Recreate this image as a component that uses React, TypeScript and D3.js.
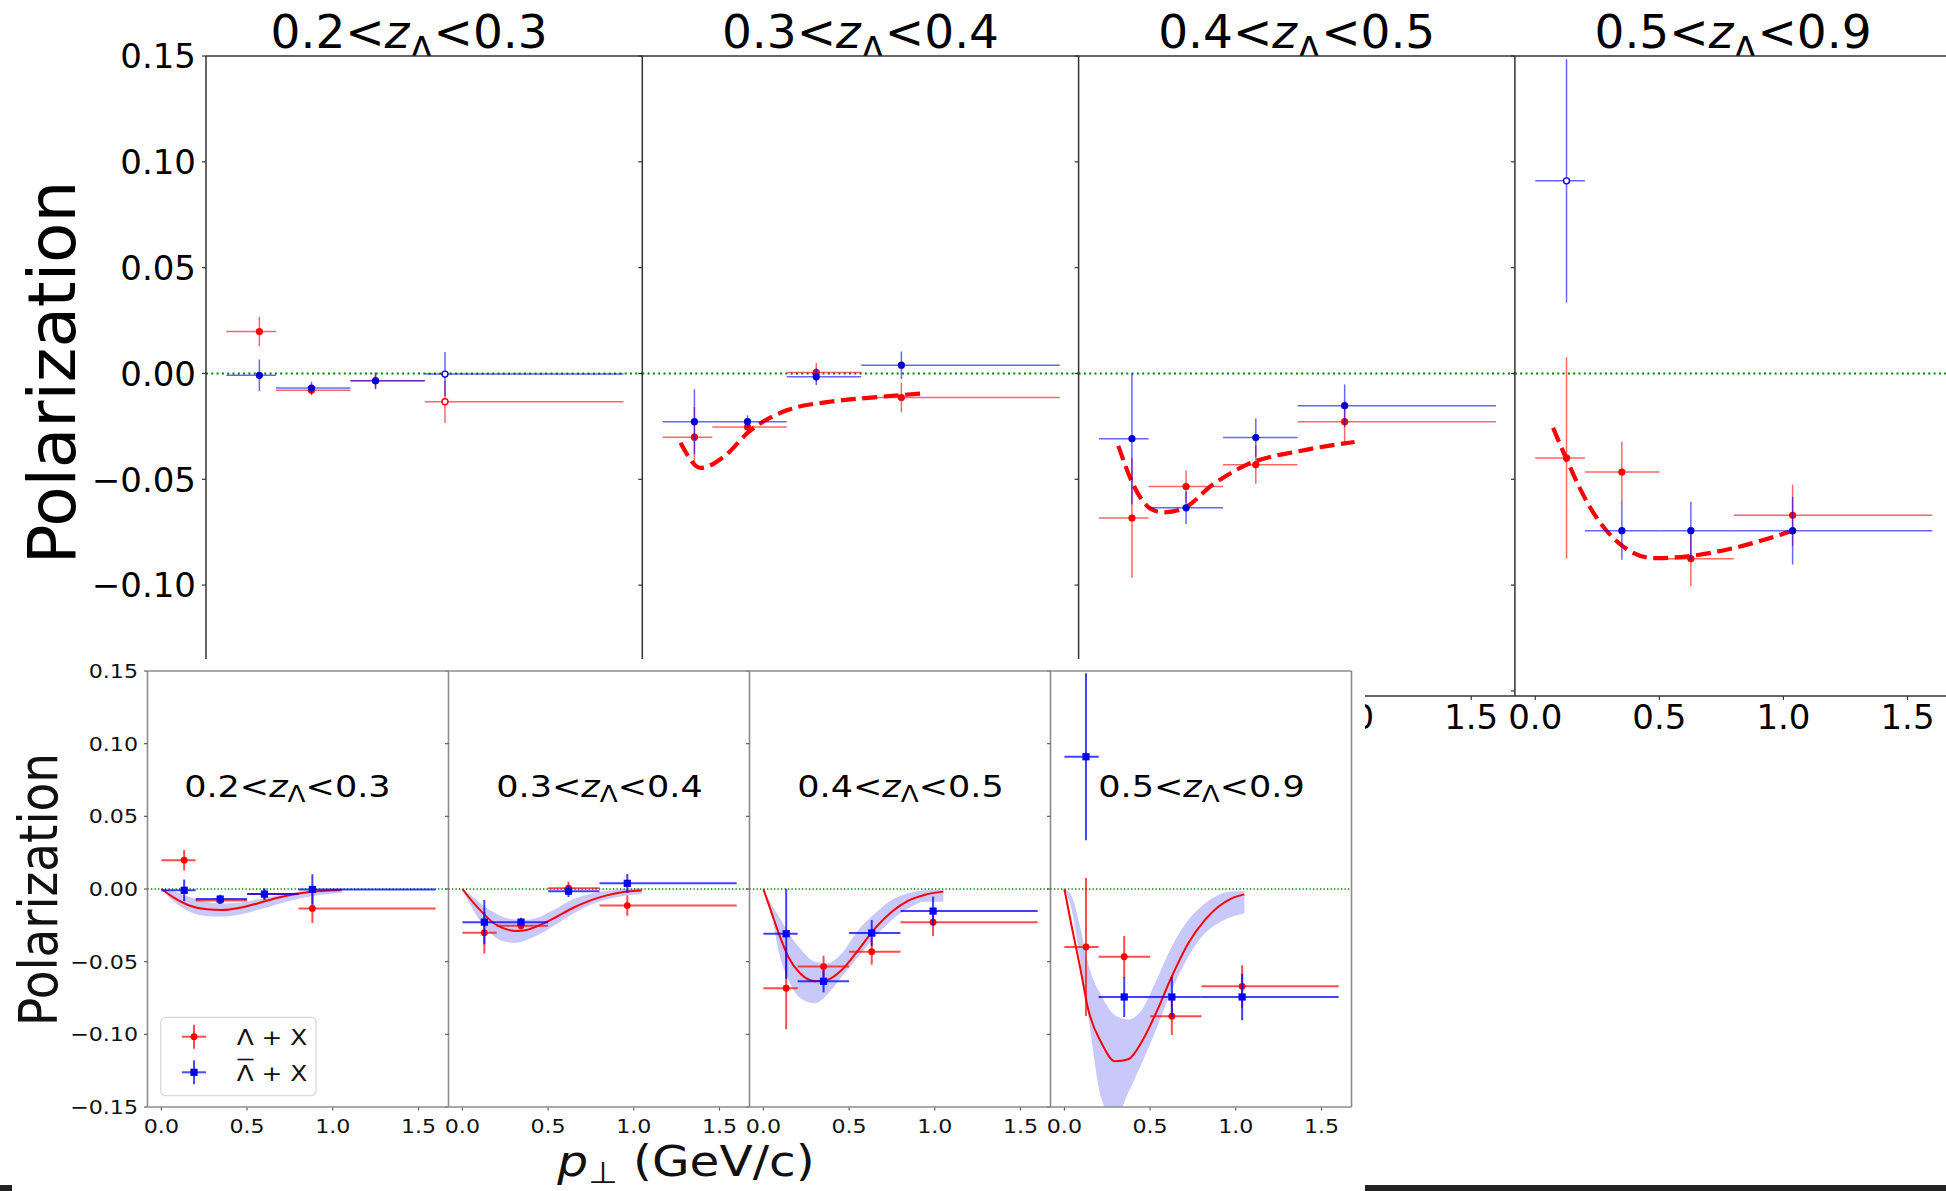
import React, { useEffect } from "react";
import * as d3 from "d3";

// ---------- data ----------
const zLow = ["0.2", "0.3", "0.4", "0.5"];
const zHigh = ["0.3", "0.4", "0.5", "0.9"];
const binEdges = [0, 0.2, 0.5, 0.8, 1.6];
const ptX = [
  [0.133, 0.343, 0.601, 0.881],
  [0.128, 0.342, 0.619, 0.962],
  [0.133, 0.351, 0.632, 0.99],
  [0.126, 0.349, 0.627, 1.037],
];
const lamY = [
  [0.0198, -0.0079, -0.0035, -0.0134],
  [-0.0301, -0.0253, 0.0005, -0.0114],
  [-0.0683, -0.0534, -0.0431, -0.0228],
  [-0.0399, -0.0466, -0.0875, -0.067],
];
const lamErr = [
  [0.007, 0.0024, 0.0035, 0.01],
  [0.0142, 0.0025, 0.0045, 0.007],
  [0.0282, 0.0075, 0.009, 0.0096],
  [0.0475, 0.0143, 0.013, 0.0145],
];
const lamOpen = [
  [false, false, false, true],
  [false, false, false, false],
  [false, false, false, false],
  [false, false, false, false],
];
const barY = [
  [-0.0009, -0.0069, -0.0035, -0.0003],
  [-0.0228, -0.0228, -0.0015, 0.0039],
  [-0.0308, -0.0635, -0.0303, -0.0152],
  [0.091, -0.0743, -0.0743, -0.0743],
];
const barErr = [
  [0.0075, 0.003, 0.004, 0.0104],
  [0.0153, 0.003, 0.004, 0.0065],
  [0.031, 0.0076, 0.009, 0.01],
  [0.0575, 0.0137, 0.0137, 0.016],
];
const barOpen = [
  [false, false, false, true],
  [false, false, false, false],
  [false, false, false, false],
  [true, false, false, false],
];

// top figure dashed model curves (panels 2-4)
const dashP = [
  [],
  [0.072, 0.154, 0.248, 0.35, 0.5, 0.67, 0.84, 1.05],
  [0.078, 0.138, 0.209, 0.258, 0.336, 0.459, 0.592, 0.815, 1.03],
  [0.072, 0.124, 0.213, 0.347, 0.48, 0.613, 0.792, 1.037],
];
const dashV = [
  [],
  [-0.0327, -0.0446, -0.0392, -0.0273, -0.0174, -0.0134, -0.0114, -0.0094],
  [-0.0342, -0.0525, -0.064, -0.0656, -0.064, -0.0525, -0.0433, -0.0365, -0.0324],
  [-0.0257, -0.04, -0.0617, -0.0811, -0.0873, -0.0864, -0.0827, -0.0743],
];

// bottom figure theory curves with bands
const thP = [
  [0, 0.07, 0.167, 0.264, 0.352, 0.459, 0.575, 0.692, 0.809, 0.925, 1.052],
  [0, 0.064, 0.122, 0.19, 0.259, 0.317, 0.375, 0.453, 0.55, 0.647, 0.745, 0.842, 0.939, 1.046],
  [0, 0.049, 0.097, 0.145, 0.214, 0.301, 0.37, 0.457, 0.554, 0.651, 0.749, 0.846, 0.943, 1.05],
  [0, 0.043, 0.091, 0.14, 0.218, 0.295, 0.373, 0.451, 0.529, 0.626, 0.723, 0.82, 0.898, 0.976, 1.05],
];
const thC = [
  [0, -0.0057, -0.0115, -0.014, -0.0145, -0.0129, -0.0094, -0.0057, -0.003, -0.0014, -0.0007],
  [0, -0.0094, -0.0168, -0.0241, -0.0278, -0.0289, -0.0282, -0.0248, -0.0191, -0.0129, -0.008, -0.0044, -0.0021, -0.0011],
  [0, -0.0168, -0.0328, -0.0466, -0.058, -0.0634, -0.0627, -0.0558, -0.042, -0.0271, -0.0156, -0.008, -0.0039, -0.0018],
  [0, -0.026, -0.0535, -0.0833, -0.1063, -0.1185, -0.1171, -0.1052, -0.0868, -0.0604, -0.0374, -0.0213, -0.0122, -0.0064, -0.0037],
];
const thLo = [
  [0, -0.0085, -0.0156, -0.0186, -0.019, -0.0175, -0.014, -0.0099, -0.0064, -0.0041, -0.0025],
  [0, -0.0145, -0.025, -0.033, -0.0365, -0.037, -0.0351, -0.031, -0.0241, -0.0168, -0.011, -0.0071, -0.0048, -0.0034],
  [0, -0.019, -0.0466, -0.062, -0.075, -0.0787, -0.073, -0.0604, -0.0466, -0.0328, -0.0213, -0.0133, -0.0087, -0.0087],
  [0, -0.0142, -0.0489, -0.088, -0.145, -0.158, -0.14, -0.12, -0.0985, -0.0696, -0.0466, -0.0305, -0.0236, -0.0191, -0.0168],
];
const thHi = [
  [0, -0.0016, -0.0057, -0.0087, -0.0099, -0.0094, -0.0069, -0.0041, -0.0018, -0.0007, 0],
  [0, -0.0057, -0.0115, -0.0165, -0.02, -0.021, -0.0211, -0.0191, -0.0133, -0.0071, -0.0034, -0.0014, 0, 0.0007],
  [0, -0.011, -0.0202, -0.03, -0.041, -0.05, -0.051, -0.0443, -0.0282, -0.0168, -0.0076, -0.003, -0.0009, -0.0005],
  [0, -0.005, -0.0257, -0.052, -0.074, -0.0868, -0.0898, -0.0833, -0.0649, -0.0397, -0.0213, -0.0099, -0.0041, -0.0018, -0.0014],
];

const yTicks = [0.15, 0.1, 0.05, 0, -0.05, -0.1, -0.15];
const xTicks = [0, 0.5, 1, 1.5];
const legendLabels = ["Λ + X", "Λ + X"];

// ---------- layout ----------
const W = 1946;
const H = 1191;
const FONT = "DejaVu Sans, Verdana, sans-serif";
const TOP = { left: 206, pw: 436.3, top: 56, bottom: 696 };
const BOT = { left: 147.5, pw: 301, top: 671, bottom: 1107 };
const INSET_TOP = 659;
const INSET_RIGHT = 1365;
const xDomTop: [number, number] = [-0.082, 1.676];
const xDomBot: [number, number] = [-0.081, 1.675];
const yDomTop: [number, number] = [-0.1524, 0.15];
const yDomBot: [number, number] = [-0.15, 0.15];
const SX = 1.13; // horizontal stretch of the inset image
const fmtY = d3.format(".2f");
const fmtX = d3.format(".1f");

const yTop = d3.scaleLinear().domain(yDomTop).range([TOP.bottom, TOP.top]);
const yBot = d3.scaleLinear().domain(yDomBot).range([BOT.bottom, BOT.top]);
const xTopScale = (i: number) =>
  d3.scaleLinear().domain(xDomTop).range([TOP.left + i * TOP.pw, TOP.left + (i + 1) * TOP.pw]);
const xBotScale = (i: number) =>
  d3.scaleLinear().domain(xDomBot).range([BOT.left + i * BOT.pw, BOT.left + (i + 1) * BOT.pw]);

function Title({ i, x, y, size, shift, sub, sx = 1 }: any) {
  return (
    <g transform={`translate(${x},${y}) scale(${sx},1)`}>
      <text fontFamily={FONT} fontSize={size} textAnchor="middle" fill="#000">
        <tspan>{zLow[i]}&lt;</tspan>
        <tspan fontStyle="italic">z</tspan>
        <tspan fontSize={size * sub} dy={shift}>Λ</tspan>
        <tspan dy={-shift}>&lt;{zHigh[i]}</tspan>
      </text>
    </g>
  );
}

function ErrPoints({ xs, ys, errs, opens, x, y, color, mcolor, lw, op, shape, r }: any) {
  return (
    <g>
      {xs.map((p: number, k: number) => (
        <g key={k}>
          <line x1={x(binEdges[k])} x2={x(binEdges[k + 1])} y1={y(ys[k])} y2={y(ys[k])} stroke={color} strokeWidth={lw} strokeOpacity={op} />
          <line x1={x(p)} x2={x(p)} y1={y(ys[k] - errs[k])} y2={y(ys[k] + errs[k])} stroke={color} strokeWidth={lw} strokeOpacity={op} />
        </g>
      ))}
      {xs.map((p: number, k: number) => {
        const open = opens && opens[k];
        if (shape === "square")
          return <rect key={"m" + k} x={x(p) - r} y={y(ys[k]) - r} width={2 * r} height={2 * r} fill={mcolor} />;
        return (
          <circle key={"m" + k} cx={x(p)} cy={y(ys[k])} r={open ? r - 0.6 : r} fill={open ? "#fff" : mcolor} stroke={open ? mcolor : "none"} strokeWidth={open ? 1.4 : 0} />
        );
      })}
    </g>
  );
}

function TopPanel({ i }: { i: number }) {
  const x = xTopScale(i);
  const x0 = TOP.left + i * TOP.pw;
  const dash = d3
    .line<number>()
    .x((_, k) => x(dashP[i][k]))
    .y((v) => yTop(v))
    .curve(d3.curveMonotoneX);
  return (
    <g>
      <line x1={x0} x2={x0 + TOP.pw} y1={yTop(0)} y2={yTop(0)} stroke="#008000" strokeWidth={2} strokeDasharray="2,3.3" />
      {dashP[i].length > 0 && (
        <path d={dash(dashV[i]) || ""} fill="none" stroke="#ff0000" strokeWidth={4.2} strokeDasharray="15,6.5" />
      )}
      <ErrPoints xs={ptX[i]} ys={lamY[i]} errs={lamErr[i]} opens={lamOpen[i]} x={x} y={yTop} color="#ff0000" mcolor="#ff0000" lw={1.5} op={0.6} shape="circle" r={3.6} />
      <ErrPoints xs={ptX[i]} ys={barY[i]} errs={barErr[i]} opens={barOpen[i]} x={x} y={yTop} color="#0000ff" mcolor="#0000d0" lw={1.5} op={0.6} shape="circle" r={3.6} />
      <line x1={x0} x2={x0} y1={TOP.top} y2={TOP.bottom} stroke="#333" strokeWidth={1.5} />
      {yTicks.map((t) => (
        <line key={t} x1={x0 - 4} x2={x0} y1={yTop(t)} y2={yTop(t)} stroke="#333" strokeWidth={1.2} />
      ))}
      {xTicks.map((t) => (
        <g key={t}>
          <line x1={x(t)} x2={x(t)} y1={TOP.bottom} y2={TOP.bottom + 4} stroke="#333" strokeWidth={1.2} />
          {x(t) + 30 > INSET_RIGHT && (
            <text x={x(t)} y={729} fontFamily={FONT} fontSize={34} textAnchor="middle" fill="#000">
              {fmtX(t)}
            </text>
          )}
        </g>
      ))}
    </g>
  );
}

function BotPanel({ i }: { i: number }) {
  const x = xBotScale(i);
  const x0 = BOT.left + i * BOT.pw;
  const line = d3
    .line<number>()
    .x((_, k) => x(thP[i][k]))
    .y((v) => yBot(v))
    .curve(d3.curveMonotoneX);
  const area = d3
    .area<number>()
    .x((_, k) => x(thP[i][k]))
    .y0((_, k) => yBot(thLo[i][k]))
    .y1((_, k) => yBot(thHi[i][k]))
    .curve(d3.curveMonotoneX);
  const idx = thP[i].map((_, k) => k);
  return (
    <g>
      <clipPath id={"bclip" + i}>
        <rect x={x0} y={BOT.top} width={BOT.pw} height={BOT.bottom - BOT.top} />
      </clipPath>
      <g clipPath={`url(#bclip${i})`}>
        <path d={area(idx as any) || ""} fill="rgb(200,200,250)" stroke="none" />
        <line x1={x0} x2={x0 + BOT.pw} y1={yBot(0)} y2={yBot(0)} stroke="#008000" strokeWidth={1.3} strokeDasharray="1.3,2.2" />
        <path d={line(thC[i]) || ""} fill="none" stroke="#ff0000" strokeWidth={2} />
        <ErrPoints xs={ptX[i]} ys={lamY[i]} errs={lamErr[i]} x={x} y={yBot} color="#ff0000" mcolor="#ff0000" lw={2} op={0.7} shape="circle" r={3.4} />
        <ErrPoints xs={ptX[i]} ys={barY[i]} errs={barErr[i]} x={x} y={yBot} color="#0000ff" mcolor="#0000ff" lw={2} op={0.75} shape="square" r={3.6} />
      </g>
      <line x1={x0} x2={x0} y1={BOT.top} y2={BOT.bottom} stroke="#8c8c8c" strokeWidth={1.6} />
      {yTicks.map((t) => (
        <line key={t} x1={x0 - 3.5} x2={x0} y1={yBot(t)} y2={yBot(t)} stroke="#555" strokeWidth={1.1} />
      ))}
      {xTicks.map((t) => (
        <g key={t}>
          <line x1={x(t)} x2={x(t)} y1={BOT.bottom} y2={BOT.bottom + 3.5} stroke="#555" strokeWidth={1.1} />
          <g transform={`translate(${x(t)},1133) scale(${SX},1)`}>
            <text fontFamily={FONT} fontSize={19.6} textAnchor="middle" fill="#111">
              {fmtX(t)}
            </text>
          </g>
        </g>
      ))}
      <Title i={i} x={x(i === 0 ? 0.735 : 0.8)} y={797} size={31} shift={5} sub={0.75} sx={SX} />
    </g>
  );
}

export default function App() {
  useEffect(() => {
    document.body.style.margin = "0";
  }, []);
  const legY = [1036.7, 1072.3];
  const legColors = ["#ff0000", "#0000ff"];
  return (
    <svg width={W} height={H} viewBox={`0 0 ${W} ${H}`} style={{ position: "absolute", left: 0, top: 0, display: "block", background: "#fff" }}>
      <rect x={0} y={0} width={W} height={H} fill="#fff" />
      {/* ===== top figure ===== */}
      {[0, 1, 2, 3].map((i) => (
        <Title key={"t" + i} i={i} x={TOP.left + (i + 0.5) * TOP.pw - (i === 0 ? 15 : 0)} y={48} size={47} shift={14} sub={0.75} />
      ))}
      <rect x={TOP.left} y={TOP.top} width={W - TOP.left} height={TOP.bottom - TOP.top} fill="#fff" />
      {[0, 1, 2, 3].map((i) => (
        <TopPanel key={"p" + i} i={i} />
      ))}
      <line x1={TOP.left} x2={W} y1={TOP.top} y2={TOP.top} stroke="#333" strokeWidth={1.5} />
      <line x1={TOP.left} x2={W} y1={TOP.bottom} y2={TOP.bottom} stroke="#333" strokeWidth={1.5} />
      {yTicks
        .filter((t) => yTop(t) + 12 < INSET_TOP)
        .map((t) => (
          <text key={"yl" + t} x={196} y={yTop(t) + 12.3} fontFamily={FONT} fontSize={34} textAnchor="end" fill="#000">
            {fmtY(t)}
          </text>
        ))}
      <text transform="translate(75,372.5) rotate(-90)" fontFamily={FONT} fontSize={66} textAnchor="middle" fill="#000">
        Polarization
      </text>

      {/* ===== inset figure ===== */}
      <rect x={0} y={INSET_TOP} width={INSET_RIGHT} height={H - INSET_TOP} fill="#fff" />
      {[0, 1, 2, 3].map((i) => (
        <BotPanel key={"b" + i} i={i} />
      ))}
      <line x1={BOT.left} x2={BOT.left + 4 * BOT.pw} y1={BOT.top} y2={BOT.top} stroke="#8c8c8c" strokeWidth={1.6} />
      <line x1={BOT.left} x2={BOT.left + 4 * BOT.pw} y1={BOT.bottom} y2={BOT.bottom} stroke="#8c8c8c" strokeWidth={1.6} />
      <line x1={BOT.left + 4 * BOT.pw} x2={BOT.left + 4 * BOT.pw} y1={BOT.top} y2={BOT.bottom} stroke="#8c8c8c" strokeWidth={1.6} />
      {yTicks.map((t) => (
        <g key={"byl" + t} transform={`translate(138,${yBot(t) + 7}) scale(${SX},1)`}>
          <text fontFamily={FONT} fontSize={19.6} textAnchor="end" fill="#111">
            {fmtY(t)}
          </text>
        </g>
      ))}
      <g transform={`translate(57,889.5) scale(${SX},1) rotate(-90)`}>
        <text fontFamily={FONT} fontSize={47} textAnchor="middle" fill="#111">
          Polarization
        </text>
      </g>
      <g transform={`translate(686,1176) scale(${SX},1)`}>
        <text fontFamily={FONT} fontSize={43} textAnchor="middle" fill="#111">
          <tspan fontStyle="italic">p</tspan>
          <tspan fontSize={30} dy={7}>⊥</tspan>
          <tspan dy={-7}> (GeV/c)</tspan>
        </text>
      </g>
      {/* legend */}
      <rect x={160.7} y={1017.3} width={155.3} height={78.4} rx={5} fill="#fff" fillOpacity={0.85} stroke="#d8d8d8" strokeWidth={1.2} />
      {legY.map((ly, k) => (
        <g key={"lg" + k}>
          <line x1={182} x2={206} y1={ly} y2={ly} stroke={legColors[k]} strokeWidth={2} strokeOpacity={0.7} />
          <line x1={194} x2={194} y1={ly - 12} y2={ly + 12} stroke={legColors[k]} strokeWidth={2} strokeOpacity={0.7} />
          {k === 0 ? <circle cx={194} cy={ly} r={3.4} fill={legColors[k]} /> : <rect x={190.4} y={ly - 3.6} width={7.2} height={7.2} fill={legColors[k]} />}
          <g transform={`translate(236.7,${ly + 8.2}) scale(${SX},1)`}>
            <text fontFamily={FONT} fontSize={22} fill="#111">
              {legendLabels[k]}
            </text>
          </g>
        </g>
      ))}
      <line x1={237.5} x2={253.5} y1={1059.5} y2={1059.5} stroke="#111" strokeWidth={1.6} />
      {/* screenshot artifacts */}
      <rect x={INSET_RIGHT} y={1185} width={W - INSET_RIGHT} height={6} fill="#222" />
      <rect x={0} y={1185} width={12} height={6} fill="#222" />
    </svg>
  );
}
